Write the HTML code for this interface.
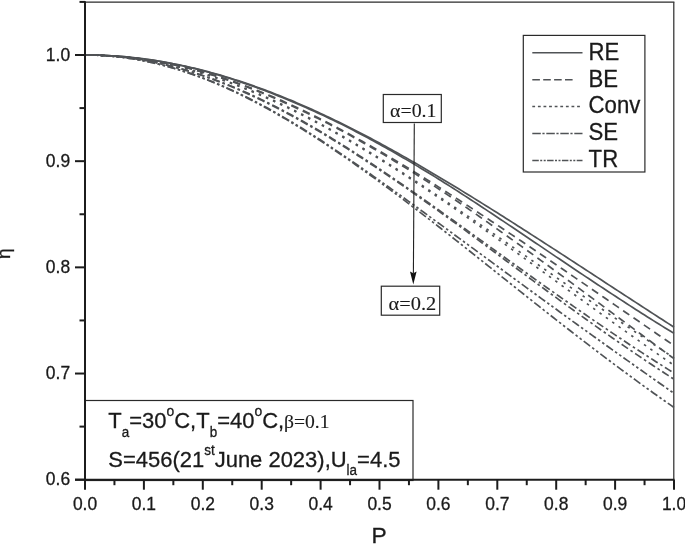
<!DOCTYPE html>
<html><head><meta charset="utf-8"><title>chart</title>
<style>
html,body{margin:0;padding:0;background:#fff;}
svg{display:block;}
text{font-family:"Liberation Sans",Arial,Helvetica,sans-serif;fill:#1a1a1a;stroke:#1a1a1a;stroke-width:0.3px;}
.serif{font-family:"Liberation Serif","Times New Roman",serif;stroke-width:0.12px;}
</style></head><body>
<svg width="685" height="544" viewBox="0 0 685 544">
<rect width="685" height="544" fill="#fff"/>
<!-- frame -->
<line x1="85.0" y1="2.2" x2="674.4" y2="2.2" stroke="#2a2a2a" stroke-width="1.2"/>
<line x1="673.8" y1="2.2" x2="673.8" y2="479.7" stroke="#2a2a2a" stroke-width="1.2"/>
<g>
<path d="M85.00,55.00 L87.94,55.01 L90.89,55.04 L93.83,55.09 L96.78,55.16 L99.72,55.24 L102.67,55.35 L105.62,55.48 L108.56,55.63 L111.50,55.79 L114.45,55.98 L117.40,56.18 L120.34,56.41 L123.28,56.65 L126.23,56.92 L129.18,57.20 L132.12,57.50 L135.06,57.82 L138.01,58.16 L140.95,58.52 L143.90,58.90 L146.84,59.30 L149.79,59.71 L152.74,60.14 L155.68,60.60 L158.62,61.07 L161.57,61.56 L164.51,62.07 L167.46,62.59 L170.41,63.14 L173.35,63.71 L176.30,64.29 L179.24,64.89 L182.19,65.51 L185.13,66.15 L188.07,66.80 L191.02,67.48 L193.97,68.17 L196.91,68.88 L199.86,69.61 L202.80,70.35 L205.75,71.12 L208.69,71.90 L211.63,72.70 L214.58,73.51 L217.53,74.34 L220.47,75.19 L223.42,76.06 L226.36,76.94 L229.31,77.84 L232.25,78.76 L235.19,79.69 L238.14,80.64 L241.09,81.61 L244.03,82.59 L246.98,83.59 L249.92,84.61 L252.87,85.64 L255.81,86.68 L258.75,87.74 L261.70,88.82 L264.64,89.91 L267.59,91.02 L270.53,92.14 L273.48,93.28 L276.43,94.43 L279.37,95.60 L282.31,96.78 L285.26,97.98 L288.21,99.19 L291.15,100.41 L294.10,101.65 L297.04,102.91 L299.99,104.18 L302.93,105.46 L305.88,106.75 L308.82,108.06 L311.76,109.38 L314.71,110.72 L317.65,112.07 L320.60,113.43 L323.55,114.80 L326.49,116.19 L329.44,117.58 L332.38,118.99 L335.32,120.41 L338.27,121.85 L341.21,123.29 L344.16,124.75 L347.11,126.22 L350.05,127.70 L353.00,129.19 L355.94,130.69 L358.88,132.20 L361.83,133.72 L364.78,135.26 L367.72,136.81 L370.67,138.37 L373.61,139.93 L376.56,141.51 L379.50,143.10 L382.44,144.69 L385.39,146.30 L388.33,147.92 L391.28,149.54 L394.23,151.17 L397.17,152.82 L400.12,154.47 L403.06,156.13 L406.00,157.80 L408.95,159.47 L411.90,161.16 L414.84,162.85 L417.79,164.55 L420.73,166.26 L423.68,167.97 L426.62,169.69 L429.56,171.42 L432.51,173.16 L435.45,174.91 L438.40,176.66 L441.34,178.41 L444.29,180.18 L447.24,181.95 L450.18,183.72 L453.12,185.50 L456.07,187.29 L459.01,189.08 L461.96,190.88 L464.91,192.68 L467.85,194.49 L470.80,196.30 L473.74,198.12 L476.69,199.94 L479.63,201.77 L482.58,203.60 L485.52,205.44 L488.47,207.28 L491.41,209.12 L494.36,210.97 L497.30,212.83 L500.25,214.69 L503.19,216.55 L506.13,218.41 L509.08,220.28 L512.02,222.15 L514.97,224.03 L517.91,225.91 L520.86,227.79 L523.81,229.68 L526.75,231.56 L529.69,233.45 L532.64,235.35 L535.59,237.24 L538.53,239.14 L541.48,241.04 L544.42,242.94 L547.37,244.84 L550.31,246.75 L553.25,248.66 L556.20,250.57 L559.14,252.48 L562.09,254.39 L565.04,256.30 L567.98,258.22 L570.92,260.13 L573.87,262.05 L576.82,263.97 L579.76,265.89 L582.70,267.81 L585.65,269.73 L588.60,271.65 L591.54,273.57 L594.49,275.49 L597.43,277.41 L600.38,279.33 L603.32,281.26 L606.26,283.18 L609.21,285.10 L612.15,287.02 L615.10,288.94 L618.04,290.86 L620.99,292.78 L623.94,294.70 L626.88,296.62 L629.83,298.54 L632.77,300.46 L635.72,302.37 L638.66,304.29 L641.61,306.20 L644.55,308.12 L647.50,310.03 L650.44,311.94 L653.38,313.85 L656.33,315.76 L659.27,317.67 L662.22,319.57 L665.16,321.47 L668.11,323.38 L671.05,325.28 L674.00,327.18" fill="none" stroke="#505356" stroke-width="1.7"/>
<path d="M85.00,55.00 L87.94,55.01 L90.89,55.04 L93.83,55.09 L96.78,55.16 L99.72,55.24 L102.67,55.35 L105.62,55.48 L108.56,55.63 L111.50,55.79 L114.45,55.98 L117.40,56.18 L120.34,56.41 L123.28,56.65 L126.23,56.92 L129.18,57.20 L132.12,57.50 L135.06,57.82 L138.01,58.16 L140.95,58.52 L143.90,58.90 L146.84,59.31 L149.79,59.74 L152.74,60.19 L155.68,60.66 L158.62,61.15 L161.57,61.65 L164.51,62.18 L167.46,62.72 L170.41,63.29 L173.35,63.87 L176.30,64.47 L179.24,65.08 L182.19,65.72 L185.13,66.37 L188.07,67.04 L191.02,67.74 L193.97,68.44 L196.91,69.17 L199.86,69.91 L202.80,70.67 L205.75,71.45 L208.69,72.25 L211.63,73.06 L214.58,73.90 L217.53,74.74 L220.47,75.61 L223.42,76.49 L226.36,77.39 L229.31,78.31 L232.25,79.24 L235.19,80.19 L238.14,81.16 L241.09,82.14 L244.03,83.14 L246.98,84.15 L249.92,85.18 L252.87,86.23 L255.81,87.29 L258.75,88.37 L261.70,89.46 L264.64,90.57 L267.59,91.69 L270.53,92.83 L273.48,93.99 L276.43,95.15 L279.37,96.34 L282.31,97.54 L285.26,98.75 L288.21,99.97 L291.15,101.21 L294.10,102.45 L297.04,103.71 L299.99,104.98 L302.93,106.26 L305.88,107.55 L308.82,108.86 L311.76,110.18 L314.71,111.52 L317.65,112.87 L320.60,114.23 L323.55,115.60 L326.49,116.99 L329.44,118.38 L332.38,119.79 L335.32,121.22 L338.27,122.66 L341.21,124.11 L344.16,125.58 L347.11,127.07 L350.05,128.58 L353.00,130.09 L355.94,131.63 L358.88,133.17 L361.83,134.74 L364.78,136.29 L367.72,137.86 L370.67,139.44 L373.61,141.03 L376.56,142.64 L379.50,144.26 L382.44,145.89 L385.39,147.53 L388.33,149.19 L391.28,150.86 L394.23,152.54 L397.17,154.23 L400.12,155.93 L403.06,157.65 L406.00,159.37 L408.95,161.11 L411.90,162.85 L414.84,164.61 L417.79,166.37 L420.73,168.15 L423.68,169.93 L426.62,171.72 L429.56,173.52 L432.51,175.33 L435.45,177.15 L438.40,178.98 L441.34,180.81 L444.29,182.66 L447.24,184.50 L450.18,186.36 L453.12,188.25 L456.07,190.14 L459.01,192.04 L461.96,193.95 L464.91,195.86 L467.85,197.77 L470.80,199.70 L473.74,201.63 L476.69,203.56 L479.63,205.50 L482.58,207.44 L485.52,209.39 L488.47,211.34 L491.41,213.29 L494.36,215.25 L497.30,217.21 L500.25,219.18 L503.19,221.15 L506.13,223.12 L509.08,225.09 L512.02,227.07 L514.97,229.04 L517.91,231.02 L520.86,233.00 L523.81,234.99 L526.75,236.97 L529.69,238.96 L532.64,240.94 L535.59,242.93 L538.53,244.92 L541.48,246.90 L544.42,248.89 L547.37,250.88 L550.31,252.87 L553.25,254.85 L556.20,256.84 L559.14,258.82 L562.09,260.80 L565.04,262.79 L567.98,264.77 L570.92,266.74 L573.87,268.72 L576.82,270.69 L579.76,272.67 L582.70,274.63 L585.65,276.60 L588.60,278.56 L591.54,280.52 L594.49,282.48 L597.43,284.43 L600.38,286.38 L603.32,288.33 L606.26,290.27 L609.21,292.21 L612.15,294.14 L615.10,296.07 L618.04,297.99 L620.99,299.91 L623.94,301.82 L626.88,303.73 L629.83,305.63 L632.77,307.53 L635.72,309.42 L638.66,311.30 L641.61,313.18 L644.55,315.05 L647.50,316.91 L650.44,318.77 L653.38,320.62 L656.33,322.47 L659.27,324.30 L662.22,326.13 L665.16,327.96 L668.11,329.77 L671.05,331.58 L674.00,333.37" fill="none" stroke="#505356" stroke-width="1.7"/>
<path d="M85.00,55.00 L87.94,55.01 L90.89,55.04 L93.83,55.10 L96.78,55.17 L99.72,55.27 L102.67,55.39 L105.62,55.53 L108.56,55.69 L111.50,55.87 L114.45,56.08 L117.40,56.31 L120.34,56.55 L123.28,56.82 L126.23,57.11 L129.18,57.42 L132.12,57.76 L135.06,58.11 L138.01,58.49 L140.95,58.88 L143.90,59.30 L146.84,59.74 L149.79,60.19 L152.74,60.67 L155.68,61.17 L158.62,61.69 L161.57,62.23 L164.51,62.79 L167.46,63.37 L170.41,63.98 L173.35,64.60 L176.30,65.24 L179.24,65.90 L182.19,66.58 L185.13,67.29 L188.07,68.01 L191.02,68.75 L193.97,69.51 L196.91,70.29 L199.86,71.09 L202.80,71.91 L205.75,72.75 L208.69,73.61 L211.63,74.49 L214.58,75.38 L217.53,76.30 L220.47,77.23 L223.42,78.18 L226.36,79.15 L229.31,80.14 L232.25,81.15 L235.19,82.17 L238.14,83.22 L241.09,84.28 L244.03,85.35 L246.98,86.45 L249.92,87.56 L252.87,88.69 L255.81,89.83 L258.75,91.00 L261.70,92.18 L264.64,93.37 L267.59,94.58 L270.53,95.81 L273.48,97.06 L276.43,98.32 L279.37,99.59 L282.31,100.88 L285.26,102.19 L288.21,103.51 L291.15,104.85 L294.10,106.20 L297.04,107.57 L299.99,108.96 L302.93,110.36 L305.88,111.77 L308.82,113.19 L311.76,114.63 L314.71,116.09 L317.65,117.55 L320.60,119.04 L323.55,120.53 L326.49,122.04 L329.44,123.56 L332.38,125.09 L335.32,126.63 L338.27,128.19 L341.21,129.76 L344.16,131.33 L347.11,132.92 L350.05,134.52 L353.00,136.13 L355.94,137.75 L358.88,139.39 L361.83,141.03 L364.78,142.68 L367.72,144.35 L370.67,146.02 L373.61,147.70 L376.56,149.40 L379.50,151.10 L382.44,152.81 L385.39,154.53 L388.33,156.26 L391.28,158.00 L394.23,159.74 L397.17,161.50 L400.12,163.26 L403.06,165.03 L406.00,166.81 L408.95,168.60 L411.90,170.39 L414.84,172.20 L417.79,174.00 L420.73,175.82 L423.68,177.64 L426.62,179.48 L429.56,181.31 L432.51,183.16 L435.45,185.01 L438.40,186.86 L441.34,188.73 L444.29,190.59 L447.24,192.47 L450.18,194.35 L453.12,196.23 L456.07,198.12 L459.01,200.02 L461.96,201.92 L464.91,203.82 L467.85,205.73 L470.80,207.64 L473.74,209.56 L476.69,211.49 L479.63,213.42 L482.58,215.35 L485.52,217.29 L488.47,219.23 L491.41,221.17 L494.36,223.12 L497.30,225.07 L500.25,227.03 L503.19,228.99 L506.13,230.96 L509.08,232.92 L512.02,234.89 L514.97,236.87 L517.91,238.84 L520.86,240.82 L523.81,242.80 L526.75,244.79 L529.69,246.78 L532.64,248.77 L535.59,250.76 L538.53,252.75 L541.48,254.75 L544.42,256.75 L547.37,258.75 L550.31,260.75 L553.25,262.76 L556.20,264.76 L559.14,266.77 L562.09,268.78 L565.04,270.79 L567.98,272.80 L570.92,274.82 L573.87,276.83 L576.82,278.85 L579.76,280.87 L582.70,282.88 L585.65,284.90 L588.60,286.92 L591.54,288.94 L594.49,290.96 L597.43,292.98 L600.38,295.01 L603.32,297.03 L606.26,299.05 L609.21,301.07 L612.15,303.10 L615.10,305.12 L618.04,307.14 L620.99,309.17 L623.94,311.19 L626.88,313.21 L629.83,315.24 L632.77,317.26 L635.72,319.28 L638.66,321.30 L641.61,323.33 L644.55,325.35 L647.50,327.37 L650.44,329.39 L653.38,331.41 L656.33,333.43 L659.27,335.45 L662.22,337.46 L665.16,339.48 L668.11,341.50 L671.05,343.51 L674.00,345.53" fill="none" stroke="#505356" stroke-width="1.7" stroke-dasharray="7.5 5.1"/>
<path d="M85.00,55.00 L87.94,55.01 L90.89,55.04 L93.83,55.10 L96.78,55.17 L99.72,55.27 L102.67,55.39 L105.62,55.53 L108.56,55.69 L111.50,55.87 L114.45,56.08 L117.40,56.31 L120.34,56.55 L123.28,56.82 L126.23,57.11 L129.18,57.42 L132.12,57.76 L135.06,58.11 L138.01,58.49 L140.95,58.88 L143.90,59.30 L146.84,59.75 L149.79,60.23 L152.74,60.72 L155.68,61.24 L158.62,61.77 L161.57,62.33 L164.51,62.90 L167.46,63.50 L170.41,64.12 L173.35,64.76 L176.30,65.42 L179.24,66.09 L182.19,66.79 L185.13,67.51 L188.07,68.25 L191.02,69.01 L193.97,69.78 L196.91,70.58 L199.86,71.40 L202.80,72.23 L205.75,73.09 L208.69,73.96 L211.63,74.86 L214.58,75.77 L217.53,76.70 L220.47,77.65 L223.42,78.62 L226.36,79.60 L229.31,80.61 L232.25,81.63 L235.19,82.67 L238.14,83.73 L241.09,84.80 L244.03,85.90 L246.98,87.01 L249.92,88.13 L252.87,89.28 L255.81,90.44 L258.75,91.62 L261.70,92.82 L264.64,94.03 L267.59,95.26 L270.53,96.50 L273.48,97.76 L276.43,99.04 L279.37,100.33 L282.31,101.64 L285.26,102.96 L288.21,104.30 L291.15,105.65 L294.10,107.00 L297.04,108.37 L299.99,109.76 L302.93,111.16 L305.88,112.57 L308.82,113.99 L311.76,115.43 L314.71,116.89 L317.65,118.35 L320.60,119.84 L323.55,121.33 L326.49,122.84 L329.44,124.36 L332.38,125.89 L335.32,127.43 L338.27,129.00 L341.21,130.57 L344.16,132.16 L347.11,133.76 L350.05,135.38 L353.00,137.01 L355.94,138.65 L358.88,140.31 L361.83,141.98 L364.78,143.64 L367.72,145.31 L370.67,147.00 L373.61,148.69 L376.56,150.40 L379.50,152.12 L382.44,153.85 L385.39,155.60 L388.33,157.35 L391.28,159.12 L394.23,160.90 L397.17,162.69 L400.12,164.49 L403.06,166.30 L406.00,168.12 L408.95,169.95 L411.90,171.79 L414.84,173.64 L417.79,175.50 L420.73,177.37 L423.68,179.24 L426.62,181.13 L429.56,183.03 L432.51,184.93 L435.45,186.85 L438.40,188.77 L441.34,190.70 L444.29,192.64 L447.24,194.59 L450.18,196.54 L453.12,198.53 L456.07,200.52 L459.01,202.52 L461.96,204.53 L464.91,206.54 L467.85,208.56 L470.80,210.59 L473.74,212.62 L476.69,214.66 L479.63,216.71 L482.58,218.76 L485.52,220.82 L488.47,222.88 L491.41,224.95 L494.36,227.03 L497.30,229.11 L500.25,231.19 L503.19,233.29 L506.13,235.38 L509.08,237.48 L512.02,239.58 L514.97,241.69 L517.91,243.81 L520.86,245.92 L523.81,248.04 L526.75,250.17 L529.69,252.30 L532.64,254.43 L535.59,256.57 L538.53,258.71 L541.48,260.85 L544.42,262.99 L547.37,265.14 L550.31,267.29 L553.25,269.44 L556.20,271.60 L559.14,273.76 L562.09,275.92 L565.04,278.08 L567.98,280.25 L570.92,282.42 L573.87,284.58 L576.82,286.75 L579.76,288.93 L582.70,291.10 L585.65,293.28 L588.60,295.45 L591.54,297.63 L594.49,299.81 L597.43,301.99 L600.38,304.17 L603.32,306.35 L606.26,308.53 L609.21,310.71 L612.15,312.90 L615.10,315.08 L618.04,317.26 L620.99,319.45 L623.94,321.63 L626.88,323.82 L629.83,326.00 L632.77,328.18 L635.72,330.37 L638.66,332.55 L641.61,334.73 L644.55,336.91 L647.50,339.09 L650.44,341.27 L653.38,343.45 L656.33,345.63 L659.27,347.81 L662.22,349.99 L665.16,352.16 L668.11,354.34 L671.05,356.51 L674.00,358.68" fill="none" stroke="#505356" stroke-width="1.7" stroke-dasharray="7.5 5.1"/>
<path d="M85.00,55.00 L87.94,55.01 L90.89,55.05 L93.83,55.11 L96.78,55.19 L99.72,55.29 L102.67,55.42 L105.62,55.57 L108.56,55.75 L111.50,55.95 L114.45,56.17 L117.40,56.41 L120.34,56.68 L123.28,56.97 L126.23,57.29 L129.18,57.62 L132.12,57.99 L135.06,58.37 L138.01,58.78 L140.95,59.20 L143.90,59.66 L146.84,60.13 L149.79,60.62 L152.74,61.14 L155.68,61.68 L158.62,62.24 L161.57,62.83 L164.51,63.43 L167.46,64.06 L170.41,64.71 L173.35,65.39 L176.30,66.08 L179.24,66.80 L182.19,67.54 L185.13,68.30 L188.07,69.08 L191.02,69.88 L193.97,70.70 L196.91,71.54 L199.86,72.41 L202.80,73.29 L205.75,74.20 L208.69,75.13 L211.63,76.07 L214.58,77.04 L217.53,78.03 L220.47,79.03 L223.42,80.06 L226.36,81.11 L229.31,82.17 L232.25,83.26 L235.19,84.36 L238.14,85.48 L241.09,86.63 L244.03,87.79 L246.98,88.97 L249.92,90.16 L252.87,91.38 L255.81,92.61 L258.75,93.86 L261.70,95.13 L264.64,96.42 L267.59,97.72 L270.53,99.04 L273.48,100.38 L276.43,101.73 L279.37,103.10 L282.31,104.49 L285.26,105.90 L288.21,107.31 L291.15,108.75 L294.10,110.20 L297.04,111.67 L299.99,113.15 L302.93,114.65 L305.88,116.17 L308.82,117.69 L311.76,119.24 L314.71,120.79 L317.65,122.37 L320.60,123.95 L323.55,125.55 L326.49,127.16 L329.44,128.79 L332.38,130.42 L335.32,132.08 L338.27,133.74 L341.21,135.41 L344.16,137.10 L347.11,138.80 L350.05,140.51 L353.00,142.23 L355.94,143.96 L358.88,145.71 L361.83,147.46 L364.78,149.23 L367.72,151.01 L370.67,152.79 L373.61,154.59 L376.56,156.40 L379.50,158.21 L382.44,160.04 L385.39,161.87 L388.33,163.72 L391.28,165.57 L394.23,167.43 L397.17,169.30 L400.12,171.17 L403.06,173.06 L406.00,174.95 L408.95,176.85 L411.90,178.76 L414.84,180.67 L417.79,182.59 L420.73,184.52 L423.68,186.45 L426.62,188.39 L429.56,190.34 L432.51,192.29 L435.45,194.25 L438.40,196.21 L441.34,198.18 L444.29,200.16 L447.24,202.14 L450.18,204.12 L453.12,206.11 L456.07,208.10 L459.01,210.10 L461.96,212.09 L464.91,214.10 L467.85,216.11 L470.80,218.12 L473.74,220.13 L476.69,222.15 L479.63,224.17 L482.58,226.19 L485.52,228.22 L488.47,230.25 L491.41,232.28 L494.36,234.32 L497.30,236.36 L500.25,238.40 L503.19,240.44 L506.13,242.48 L509.08,244.52 L512.02,246.57 L514.97,248.62 L517.91,250.67 L520.86,252.72 L523.81,254.77 L526.75,256.82 L529.69,258.87 L532.64,260.93 L535.59,262.98 L538.53,265.03 L541.48,267.09 L544.42,269.14 L547.37,271.20 L550.31,273.25 L553.25,275.30 L556.20,277.36 L559.14,279.41 L562.09,281.46 L565.04,283.51 L567.98,285.56 L570.92,287.61 L573.87,289.66 L576.82,291.70 L579.76,293.75 L582.70,295.79 L585.65,297.83 L588.60,299.87 L591.54,301.91 L594.49,303.95 L597.43,305.98 L600.38,308.01 L603.32,310.04 L606.26,312.07 L609.21,314.09 L612.15,316.12 L615.10,318.14 L618.04,320.15 L620.99,322.17 L623.94,324.18 L626.88,326.19 L629.83,328.19 L632.77,330.20 L635.72,332.19 L638.66,334.19 L641.61,336.18 L644.55,338.17 L647.50,340.16 L650.44,342.14 L653.38,344.12 L656.33,346.09 L659.27,348.06 L662.22,350.03 L665.16,351.99 L668.11,353.95 L671.05,355.90 L674.00,357.85" fill="none" stroke="#505356" stroke-width="1.7" stroke-dasharray="2.5 5.3"/>
<path d="M85.00,55.00 L87.94,55.01 L90.89,55.05 L93.83,55.11 L96.78,55.19 L99.72,55.29 L102.67,55.42 L105.62,55.57 L108.56,55.75 L111.50,55.95 L114.45,56.17 L117.40,56.41 L120.34,56.68 L123.28,56.97 L126.23,57.29 L129.18,57.62 L132.12,57.99 L135.06,58.37 L138.01,58.78 L140.95,59.20 L143.90,59.66 L146.84,60.14 L149.79,60.66 L152.74,61.19 L155.68,61.75 L158.62,62.32 L161.57,62.92 L164.51,63.55 L167.46,64.19 L170.41,64.86 L173.35,65.55 L176.30,66.26 L179.24,66.99 L182.19,67.74 L185.13,68.52 L188.07,69.32 L191.02,70.13 L193.97,70.97 L196.91,71.83 L199.86,72.71 L202.80,73.61 L205.75,74.54 L208.69,75.48 L211.63,76.44 L214.58,77.42 L217.53,78.43 L220.47,79.45 L223.42,80.49 L226.36,81.56 L229.31,82.64 L232.25,83.74 L235.19,84.86 L238.14,86.00 L241.09,87.15 L244.03,88.33 L246.98,89.53 L249.92,90.74 L252.87,91.97 L255.81,93.22 L258.75,94.49 L261.70,95.77 L264.64,97.07 L267.59,98.39 L270.53,99.73 L273.48,101.08 L276.43,102.45 L279.37,103.84 L282.31,105.24 L285.26,106.66 L288.21,108.10 L291.15,109.55 L294.10,111.00 L297.04,112.47 L299.99,113.95 L302.93,115.45 L305.88,116.97 L308.82,118.49 L311.76,120.04 L314.71,121.59 L317.65,123.17 L320.60,124.75 L323.55,126.35 L326.49,127.96 L329.44,129.59 L332.38,131.22 L335.32,132.88 L338.27,134.54 L341.21,136.22 L344.16,137.92 L347.11,139.62 L350.05,141.35 L353.00,143.08 L355.94,144.83 L358.88,146.58 L361.83,148.36 L364.78,150.12 L367.72,151.89 L370.67,153.67 L373.61,155.47 L376.56,157.27 L379.50,159.09 L382.44,160.92 L385.39,162.76 L388.33,164.61 L391.28,166.47 L394.23,168.34 L397.17,170.22 L400.12,172.10 L403.06,174.00 L406.00,175.91 L408.95,177.83 L411.90,179.75 L414.84,181.68 L417.79,183.62 L420.73,185.57 L423.68,187.53 L426.62,189.50 L429.56,191.47 L432.51,193.45 L435.45,195.43 L438.40,197.43 L441.34,199.43 L444.29,201.43 L447.24,203.45 L450.18,205.47 L453.12,207.51 L456.07,209.57 L459.01,211.63 L461.96,213.69 L464.91,215.76 L467.85,217.83 L470.80,219.91 L473.74,221.99 L476.69,224.08 L479.63,226.17 L482.58,228.27 L485.52,230.37 L488.47,232.47 L491.41,234.58 L494.36,236.69 L497.30,238.80 L500.25,240.91 L503.19,243.03 L506.13,245.15 L509.08,247.27 L512.02,249.40 L514.97,251.53 L517.91,253.65 L520.86,255.78 L523.81,257.92 L526.75,260.05 L529.69,262.18 L532.64,264.32 L535.59,266.46 L538.53,268.59 L541.48,270.73 L544.42,272.87 L547.37,275.01 L550.31,277.14 L553.25,279.28 L556.20,281.42 L559.14,283.56 L562.09,285.70 L565.04,287.83 L567.98,289.97 L570.92,292.10 L573.87,294.24 L576.82,296.37 L579.76,298.50 L582.70,300.63 L585.65,302.76 L588.60,304.89 L591.54,307.01 L594.49,309.14 L597.43,311.26 L600.38,313.38 L603.32,315.49 L606.26,317.61 L609.21,319.72 L612.15,321.83 L615.10,323.93 L618.04,326.04 L620.99,328.14 L623.94,330.23 L626.88,332.33 L629.83,334.42 L632.77,336.50 L635.72,338.59 L638.66,340.67 L641.61,342.74 L644.55,344.82 L647.50,346.88 L650.44,348.95 L653.38,351.01 L656.33,353.06 L659.27,355.12 L662.22,357.16 L665.16,359.21 L668.11,361.24 L671.05,363.28 L674.00,365.31" fill="none" stroke="#505356" stroke-width="1.7" stroke-dasharray="2.5 5.3"/>
<path d="M85.00,55.00 L87.94,55.01 L90.89,55.05 L93.83,55.12 L96.78,55.21 L99.72,55.33 L102.67,55.47 L105.62,55.64 L108.56,55.84 L111.50,56.06 L114.45,56.31 L117.40,56.58 L120.34,56.88 L123.28,57.21 L126.23,57.56 L129.18,57.94 L132.12,58.34 L135.06,58.77 L138.01,59.23 L140.95,59.71 L143.90,60.21 L146.84,60.74 L149.79,61.29 L152.74,61.87 L155.68,62.48 L158.62,63.11 L161.57,63.76 L164.51,64.44 L167.46,65.14 L170.41,65.87 L173.35,66.62 L176.30,67.39 L179.24,68.19 L182.19,69.02 L185.13,69.87 L188.07,70.74 L191.02,71.63 L193.97,72.55 L196.91,73.49 L199.86,74.46 L202.80,75.44 L205.75,76.45 L208.69,77.48 L211.63,78.54 L214.58,79.62 L217.53,80.71 L220.47,81.83 L223.42,82.98 L226.36,84.14 L229.31,85.33 L232.25,86.53 L235.19,87.76 L238.14,89.01 L241.09,90.28 L244.03,91.56 L246.98,92.87 L249.92,94.20 L252.87,95.55 L255.81,96.92 L258.75,98.30 L261.70,99.71 L264.64,101.13 L267.59,102.58 L270.53,104.04 L273.48,105.52 L276.43,107.02 L279.37,108.53 L282.31,110.07 L285.26,111.62 L288.21,113.19 L291.15,114.77 L294.10,116.37 L297.04,117.99 L299.99,119.63 L302.93,121.28 L305.88,122.95 L308.82,124.63 L311.76,126.33 L314.71,128.04 L317.65,129.77 L320.60,131.51 L323.55,133.27 L326.49,135.04 L329.44,136.83 L332.38,138.63 L335.32,140.44 L338.27,142.26 L341.21,144.10 L344.16,145.94 L347.11,147.80 L350.05,149.67 L353.00,151.55 L355.94,153.44 L358.88,155.35 L361.83,157.26 L364.78,159.18 L367.72,161.12 L370.67,163.06 L373.61,165.01 L376.56,166.98 L379.50,168.95 L382.44,170.93 L385.39,172.91 L388.33,174.91 L391.28,176.91 L394.23,178.92 L397.17,180.94 L400.12,182.96 L403.06,184.99 L406.00,187.03 L408.95,189.07 L411.90,191.12 L414.84,193.18 L417.79,195.24 L420.73,197.31 L423.68,199.38 L426.62,201.45 L429.56,203.53 L432.51,205.62 L435.45,207.71 L438.40,209.80 L441.34,211.89 L444.29,213.99 L447.24,216.10 L450.18,218.20 L453.12,220.31 L456.07,222.42 L459.01,224.53 L461.96,226.64 L464.91,228.75 L467.85,230.87 L470.80,232.99 L473.74,235.11 L476.69,237.23 L479.63,239.35 L482.58,241.47 L485.52,243.59 L488.47,245.72 L491.41,247.84 L494.36,249.96 L497.30,252.08 L500.25,254.21 L503.19,256.33 L506.13,258.45 L509.08,260.57 L512.02,262.69 L514.97,264.80 L517.91,266.92 L520.86,269.03 L523.81,271.15 L526.75,273.26 L529.69,275.37 L532.64,277.47 L535.59,279.57 L538.53,281.68 L541.48,283.77 L544.42,285.87 L547.37,287.96 L550.31,290.05 L553.25,292.13 L556.20,294.21 L559.14,296.29 L562.09,298.37 L565.04,300.44 L567.98,302.50 L570.92,304.56 L573.87,306.62 L576.82,308.67 L579.76,310.72 L582.70,312.76 L585.65,314.80 L588.60,316.83 L591.54,318.86 L594.49,320.88 L597.43,322.90 L600.38,324.91 L603.32,326.92 L606.26,328.92 L609.21,330.91 L612.15,332.90 L615.10,334.88 L618.04,336.85 L620.99,338.82 L623.94,340.78 L626.88,342.74 L629.83,344.69 L632.77,346.63 L635.72,348.56 L638.66,350.49 L641.61,352.41 L644.55,354.33 L647.50,356.23 L650.44,358.13 L653.38,360.02 L656.33,361.91 L659.27,363.78 L662.22,365.65 L665.16,367.51 L668.11,369.36 L671.05,371.21 L674.00,373.04" fill="none" stroke="#505356" stroke-width="1.7" stroke-dasharray="7.7 3 2.6 3"/>
<path d="M85.00,55.00 L87.94,55.01 L90.89,55.05 L93.83,55.12 L96.78,55.21 L99.72,55.33 L102.67,55.47 L105.62,55.64 L108.56,55.84 L111.50,56.06 L114.45,56.31 L117.40,56.58 L120.34,56.88 L123.28,57.21 L126.23,57.56 L129.18,57.94 L132.12,58.34 L135.06,58.77 L138.01,59.23 L140.95,59.71 L143.90,60.21 L146.84,60.76 L149.79,61.33 L152.74,61.92 L155.68,62.54 L158.62,63.19 L161.57,63.85 L164.51,64.55 L167.46,65.27 L170.41,66.01 L173.35,66.78 L176.30,67.57 L179.24,68.39 L182.19,69.23 L185.13,70.09 L188.07,70.98 L191.02,71.89 L193.97,72.82 L196.91,73.78 L199.86,74.76 L202.80,75.76 L205.75,76.79 L208.69,77.84 L211.63,78.91 L214.58,80.00 L217.53,81.11 L220.47,82.25 L223.42,83.41 L226.36,84.59 L229.31,85.79 L232.25,87.01 L235.19,88.26 L238.14,89.52 L241.09,90.80 L244.03,92.11 L246.98,93.43 L249.92,94.78 L252.87,96.14 L255.81,97.52 L258.75,98.93 L261.70,100.35 L264.64,101.79 L267.59,103.25 L270.53,104.73 L273.48,106.22 L276.43,107.74 L279.37,109.27 L282.31,110.82 L285.26,112.39 L288.21,113.97 L291.15,115.57 L294.10,117.17 L297.04,118.79 L299.99,120.43 L302.93,122.08 L305.88,123.75 L308.82,125.43 L311.76,127.13 L314.71,128.84 L317.65,130.57 L320.60,132.31 L323.55,134.07 L326.49,135.84 L329.44,137.63 L332.38,139.43 L335.32,141.24 L338.27,143.07 L341.21,144.90 L344.16,146.76 L347.11,148.62 L350.05,150.50 L353.00,152.39 L355.94,154.30 L358.88,156.21 L361.83,158.14 L364.78,160.06 L367.72,161.98 L370.67,163.92 L373.61,165.87 L376.56,167.83 L379.50,169.80 L382.44,171.77 L385.39,173.76 L388.33,175.76 L391.28,177.76 L394.23,179.78 L397.17,181.80 L400.12,183.83 L403.06,185.87 L406.00,187.92 L408.95,189.97 L411.90,192.03 L414.84,194.10 L417.79,196.18 L420.73,198.26 L423.68,200.35 L426.62,202.44 L429.56,204.54 L432.51,206.64 L435.45,208.75 L438.40,210.87 L441.34,212.98 L444.29,215.11 L447.24,217.23 L450.18,219.37 L453.12,221.52 L456.07,223.69 L459.01,225.85 L461.96,228.02 L464.91,230.19 L467.85,232.36 L470.80,234.54 L473.74,236.72 L476.69,238.90 L479.63,241.08 L482.58,243.26 L485.52,245.44 L488.47,247.63 L491.41,249.81 L494.36,252.00 L497.30,254.19 L500.25,256.37 L503.19,258.56 L506.13,260.74 L509.08,262.93 L512.02,265.12 L514.97,267.30 L517.91,269.48 L520.86,271.66 L523.81,273.84 L526.75,276.02 L529.69,278.20 L532.64,280.37 L535.59,282.55 L538.53,284.72 L541.48,286.89 L544.42,289.05 L547.37,291.21 L550.31,293.37 L553.25,295.53 L556.20,297.68 L559.14,299.83 L562.09,301.97 L565.04,304.11 L567.98,306.25 L570.92,308.38 L573.87,310.51 L576.82,312.63 L579.76,314.75 L582.70,316.87 L585.65,318.97 L588.60,321.08 L591.54,323.18 L594.49,325.27 L597.43,327.36 L600.38,329.44 L603.32,331.51 L606.26,333.58 L609.21,335.65 L612.15,337.70 L615.10,339.75 L618.04,341.80 L620.99,343.83 L623.94,345.86 L626.88,347.89 L629.83,349.90 L632.77,351.91 L635.72,353.91 L638.66,355.91 L641.61,357.89 L644.55,359.87 L647.50,361.84 L650.44,363.81 L653.38,365.76 L656.33,367.71 L659.27,369.65 L662.22,371.58 L665.16,373.50 L668.11,375.41 L671.05,377.32 L674.00,379.21" fill="none" stroke="#505356" stroke-width="1.7" stroke-dasharray="7.7 3 2.6 3"/>
<path d="M85.00,55.00 L87.94,55.01 L90.89,55.06 L93.83,55.13 L96.78,55.24 L99.72,55.37 L102.67,55.53 L105.62,55.72 L108.56,55.94 L111.50,56.19 L114.45,56.47 L117.40,56.78 L120.34,57.12 L123.28,57.48 L126.23,57.88 L129.18,58.30 L132.12,58.75 L135.06,59.23 L138.01,59.74 L140.95,60.28 L143.90,60.85 L146.84,61.44 L149.79,62.07 L152.74,62.71 L155.68,63.39 L158.62,64.10 L161.57,64.83 L164.51,65.59 L167.46,66.38 L170.41,67.19 L173.35,68.04 L176.30,68.90 L179.24,69.80 L182.19,70.72 L185.13,71.67 L188.07,72.65 L191.02,73.65 L193.97,74.67 L196.91,75.73 L199.86,76.80 L202.80,77.91 L205.75,79.04 L208.69,80.19 L211.63,81.37 L214.58,82.57 L217.53,83.79 L220.47,85.04 L223.42,86.32 L226.36,87.62 L229.31,88.94 L232.25,90.28 L235.19,91.65 L238.14,93.04 L241.09,94.45 L244.03,95.88 L246.98,97.34 L249.92,98.81 L252.87,100.31 L255.81,101.83 L258.75,103.37 L261.70,104.93 L264.64,106.51 L267.59,108.11 L270.53,109.73 L273.48,111.38 L276.43,113.03 L279.37,114.71 L282.31,116.41 L285.26,118.13 L288.21,119.86 L291.15,121.61 L294.10,123.38 L297.04,125.17 L299.99,126.98 L302.93,128.80 L305.88,130.64 L308.82,132.49 L311.76,134.37 L314.71,136.25 L317.65,138.16 L320.60,140.07 L323.55,142.00 L326.49,143.95 L329.44,145.91 L332.38,147.89 L335.32,149.87 L338.27,151.87 L341.21,153.87 L344.16,155.88 L347.11,157.89 L350.05,159.91 L353.00,161.94 L355.94,163.98 L358.88,166.02 L361.83,168.07 L364.78,170.13 L367.72,172.19 L370.67,174.26 L373.61,176.33 L376.56,178.41 L379.50,180.50 L382.44,182.59 L385.39,184.68 L388.33,186.78 L391.28,188.89 L394.23,191.00 L397.17,193.11 L400.12,195.22 L403.06,197.34 L406.00,199.47 L408.95,201.59 L411.90,203.72 L414.84,205.86 L417.79,207.99 L420.73,210.13 L423.68,212.28 L426.62,214.42 L429.56,216.57 L432.51,218.72 L435.45,220.87 L438.40,223.02 L441.34,225.17 L444.29,227.33 L447.24,229.49 L450.18,231.65 L453.12,233.80 L456.07,235.96 L459.01,238.12 L461.96,240.28 L464.91,242.44 L467.85,244.61 L470.80,246.77 L473.74,248.93 L476.69,251.10 L479.63,253.26 L482.58,255.42 L485.52,257.59 L488.47,259.75 L491.41,261.91 L494.36,264.08 L497.30,266.24 L500.25,268.40 L503.19,270.56 L506.13,272.73 L509.08,274.89 L512.02,277.05 L514.97,279.20 L517.91,281.36 L520.86,283.52 L523.81,285.68 L526.75,287.83 L529.69,289.98 L532.64,292.14 L535.59,294.29 L538.53,296.44 L541.48,298.59 L544.42,300.73 L547.37,302.88 L550.31,305.02 L553.25,307.16 L556.20,309.30 L559.14,311.44 L562.09,313.58 L565.04,315.71 L567.98,317.85 L570.92,319.98 L573.87,322.11 L576.82,324.24 L579.76,326.36 L582.70,328.48 L585.65,330.61 L588.60,332.73 L591.54,334.84 L594.49,336.96 L597.43,339.07 L600.38,341.18 L603.32,343.29 L606.26,345.40 L609.21,347.51 L612.15,349.61 L615.10,351.71 L618.04,353.81 L620.99,355.91 L623.94,358.00 L626.88,360.09 L629.83,362.18 L632.77,364.27 L635.72,366.36 L638.66,368.44 L641.61,370.53 L644.55,372.61 L647.50,374.69 L650.44,376.76 L653.38,378.84 L656.33,380.91 L659.27,382.98 L662.22,385.05 L665.16,387.12 L668.11,389.19 L671.05,391.25 L674.00,393.31" fill="none" stroke="#505356" stroke-width="1.7" stroke-dasharray="8.1 2.6 2.5 2.6 2.5 2.6"/>
<path d="M85.00,55.00 L87.94,55.01 L90.89,55.06 L93.83,55.13 L96.78,55.24 L99.72,55.37 L102.67,55.53 L105.62,55.72 L108.56,55.94 L111.50,56.19 L114.45,56.47 L117.40,56.78 L120.34,57.12 L123.28,57.48 L126.23,57.88 L129.18,58.30 L132.12,58.75 L135.06,59.23 L138.01,59.74 L140.95,60.28 L143.90,60.85 L146.84,61.46 L149.79,62.10 L152.74,62.76 L155.68,63.46 L158.62,64.18 L161.57,64.93 L164.51,65.70 L167.46,66.51 L170.41,67.34 L173.35,68.20 L176.30,69.08 L179.24,69.99 L182.19,70.93 L185.13,71.90 L188.07,72.89 L191.02,73.90 L193.97,74.95 L196.91,76.01 L199.86,77.11 L202.80,78.23 L205.75,79.37 L208.69,80.54 L211.63,81.73 L214.58,82.95 L217.53,84.19 L220.47,85.46 L223.42,86.75 L226.36,88.06 L229.31,89.40 L232.25,90.76 L235.19,92.14 L238.14,93.55 L241.09,94.98 L244.03,96.42 L246.98,97.90 L249.92,99.39 L252.87,100.90 L255.81,102.44 L258.75,104.00 L261.70,105.57 L264.64,107.17 L267.59,108.79 L270.53,110.42 L273.48,112.08 L276.43,113.75 L279.37,115.45 L282.31,117.16 L285.26,118.89 L288.21,120.64 L291.15,122.41 L294.10,124.18 L297.04,125.97 L299.99,127.78 L302.93,129.60 L305.88,131.44 L308.82,133.29 L311.76,135.17 L314.71,137.05 L317.65,138.96 L320.60,140.87 L323.55,142.80 L326.49,144.75 L329.44,146.71 L332.38,148.69 L335.32,150.68 L338.27,152.68 L341.21,154.70 L344.16,156.73 L347.11,158.77 L350.05,160.83 L353.00,162.90 L355.94,164.98 L358.88,167.07 L361.83,169.18 L364.78,171.27 L367.72,173.38 L370.67,175.49 L373.61,177.62 L376.56,179.75 L379.50,181.90 L382.44,184.06 L385.39,186.22 L388.33,188.40 L391.28,190.58 L394.23,192.77 L397.17,194.97 L400.12,197.18 L403.06,199.39 L406.00,201.62 L408.95,203.85 L411.90,206.08 L414.84,208.33 L417.79,210.58 L420.73,212.83 L423.68,215.10 L426.62,217.36 L429.56,219.63 L432.51,221.91 L435.45,224.19 L438.40,226.48 L441.34,228.77 L444.29,231.07 L447.24,233.36 L450.18,235.67 L453.12,238.00 L456.07,240.33 L459.01,242.66 L461.96,245.00 L464.91,247.34 L467.85,249.68 L470.80,252.02 L473.74,254.37 L476.69,256.71 L479.63,259.06 L482.58,261.41 L485.52,263.76 L488.47,266.11 L491.41,268.45 L494.36,270.80 L497.30,273.15 L500.25,275.50 L503.19,277.85 L506.13,280.20 L509.08,282.55 L512.02,284.89 L514.97,287.24 L517.91,289.58 L520.86,291.92 L523.81,294.26 L526.75,296.60 L529.69,298.93 L532.64,301.27 L535.59,303.60 L538.53,305.92 L541.48,308.25 L544.42,310.57 L547.37,312.89 L550.31,315.20 L553.25,317.51 L556.20,319.82 L559.14,322.12 L562.09,324.42 L565.04,326.72 L567.98,329.01 L570.92,331.29 L573.87,333.57 L576.82,335.85 L579.76,338.12 L582.70,340.39 L585.65,342.65 L588.60,344.91 L591.54,347.16 L594.49,349.40 L597.43,351.64 L600.38,353.87 L603.32,356.10 L606.26,358.32 L609.21,360.54 L612.15,362.74 L615.10,364.95 L618.04,367.14 L620.99,369.33 L623.94,371.51 L626.88,373.69 L629.83,375.86 L632.77,378.02 L635.72,380.17 L638.66,382.32 L641.61,384.46 L644.55,386.59 L647.50,388.71 L650.44,390.83 L653.38,392.94 L656.33,395.04 L659.27,397.13 L662.22,399.21 L665.16,401.29 L668.11,403.36 L671.05,405.42 L674.00,407.47" fill="none" stroke="#505356" stroke-width="1.7" stroke-dasharray="8.1 2.6 2.5 2.6 2.5 2.6"/>
</g>
<!-- info box -->
<rect x="85" y="400.5" width="328" height="80" fill="#fff" stroke="#2a2a2a" stroke-width="1.2"/>
<!-- axes -->
<line x1="85.0" y1="1.3" x2="85.0" y2="480.7" stroke="#1c1c1c" stroke-width="2"/>
<line x1="75.0" y1="479.7" x2="674.5" y2="479.7" stroke="#1c1c1c" stroke-width="2"/>
<line x1="85.00" y1="479.7" x2="85.00" y2="489.7" stroke="#1c1c1c" stroke-width="2"/>
<line x1="114.45" y1="479.7" x2="114.45" y2="485.2" stroke="#1c1c1c" stroke-width="2"/>
<line x1="143.90" y1="479.7" x2="143.90" y2="489.7" stroke="#1c1c1c" stroke-width="2"/>
<line x1="173.35" y1="479.7" x2="173.35" y2="485.2" stroke="#1c1c1c" stroke-width="2"/>
<line x1="202.80" y1="479.7" x2="202.80" y2="489.7" stroke="#1c1c1c" stroke-width="2"/>
<line x1="232.25" y1="479.7" x2="232.25" y2="485.2" stroke="#1c1c1c" stroke-width="2"/>
<line x1="261.70" y1="479.7" x2="261.70" y2="489.7" stroke="#1c1c1c" stroke-width="2"/>
<line x1="291.15" y1="479.7" x2="291.15" y2="485.2" stroke="#1c1c1c" stroke-width="2"/>
<line x1="320.60" y1="479.7" x2="320.60" y2="489.7" stroke="#1c1c1c" stroke-width="2"/>
<line x1="350.05" y1="479.7" x2="350.05" y2="485.2" stroke="#1c1c1c" stroke-width="2"/>
<line x1="379.50" y1="479.7" x2="379.50" y2="489.7" stroke="#1c1c1c" stroke-width="2"/>
<line x1="408.95" y1="479.7" x2="408.95" y2="485.2" stroke="#1c1c1c" stroke-width="2"/>
<line x1="438.40" y1="479.7" x2="438.40" y2="489.7" stroke="#1c1c1c" stroke-width="2"/>
<line x1="467.85" y1="479.7" x2="467.85" y2="485.2" stroke="#1c1c1c" stroke-width="2"/>
<line x1="497.30" y1="479.7" x2="497.30" y2="489.7" stroke="#1c1c1c" stroke-width="2"/>
<line x1="526.75" y1="479.7" x2="526.75" y2="485.2" stroke="#1c1c1c" stroke-width="2"/>
<line x1="556.20" y1="479.7" x2="556.20" y2="489.7" stroke="#1c1c1c" stroke-width="2"/>
<line x1="585.65" y1="479.7" x2="585.65" y2="485.2" stroke="#1c1c1c" stroke-width="2"/>
<line x1="615.10" y1="479.7" x2="615.10" y2="489.7" stroke="#1c1c1c" stroke-width="2"/>
<line x1="644.55" y1="479.7" x2="644.55" y2="485.2" stroke="#1c1c1c" stroke-width="2"/>
<line x1="674.00" y1="479.7" x2="674.00" y2="489.7" stroke="#1c1c1c" stroke-width="2"/>
<line x1="75.0" y1="479.70" x2="85.0" y2="479.70" stroke="#1c1c1c" stroke-width="2"/>
<line x1="79.5" y1="426.61" x2="85.0" y2="426.61" stroke="#1c1c1c" stroke-width="2"/>
<line x1="75.0" y1="373.53" x2="85.0" y2="373.53" stroke="#1c1c1c" stroke-width="2"/>
<line x1="79.5" y1="320.44" x2="85.0" y2="320.44" stroke="#1c1c1c" stroke-width="2"/>
<line x1="75.0" y1="267.35" x2="85.0" y2="267.35" stroke="#1c1c1c" stroke-width="2"/>
<line x1="79.5" y1="214.26" x2="85.0" y2="214.26" stroke="#1c1c1c" stroke-width="2"/>
<line x1="75.0" y1="161.17" x2="85.0" y2="161.17" stroke="#1c1c1c" stroke-width="2"/>
<line x1="79.5" y1="108.09" x2="85.0" y2="108.09" stroke="#1c1c1c" stroke-width="2"/>
<line x1="75.0" y1="55.00" x2="85.0" y2="55.00" stroke="#1c1c1c" stroke-width="2"/>
<line x1="79.5" y1="1.91" x2="85.0" y2="1.91" stroke="#1c1c1c" stroke-width="2"/>
<text transform="translate(85.00,509.60) scale(0.97,1)" text-anchor="middle" font-size="18">0.0</text>
<text transform="translate(143.90,509.60) scale(0.97,1)" text-anchor="middle" font-size="18">0.1</text>
<text transform="translate(202.80,509.60) scale(0.97,1)" text-anchor="middle" font-size="18">0.2</text>
<text transform="translate(261.70,509.60) scale(0.97,1)" text-anchor="middle" font-size="18">0.3</text>
<text transform="translate(320.60,509.60) scale(0.97,1)" text-anchor="middle" font-size="18">0.4</text>
<text transform="translate(379.50,509.60) scale(0.97,1)" text-anchor="middle" font-size="18">0.5</text>
<text transform="translate(438.40,509.60) scale(0.97,1)" text-anchor="middle" font-size="18">0.6</text>
<text transform="translate(497.30,509.60) scale(0.97,1)" text-anchor="middle" font-size="18">0.7</text>
<text transform="translate(556.20,509.60) scale(0.97,1)" text-anchor="middle" font-size="18">0.8</text>
<text transform="translate(615.10,509.60) scale(0.97,1)" text-anchor="middle" font-size="18">0.9</text>
<text transform="translate(674.00,509.60) scale(0.97,1)" text-anchor="middle" font-size="18">1.0</text>
<text transform="translate(70.10,485.20) scale(0.97,1)" text-anchor="end" font-size="18">0.6</text>
<text transform="translate(70.10,379.03) scale(0.97,1)" text-anchor="end" font-size="18">0.7</text>
<text transform="translate(70.10,272.85) scale(0.97,1)" text-anchor="end" font-size="18">0.8</text>
<text transform="translate(70.10,166.67) scale(0.97,1)" text-anchor="end" font-size="18">0.9</text>
<text transform="translate(70.10,60.50) scale(0.97,1)" text-anchor="end" font-size="18">1.0</text>
<!-- axis titles -->
<text transform="translate(379.10,543.30) scale(1.06,1)" text-anchor="middle" font-size="21.5">P</text>
<text transform="translate(9.6,253.7) rotate(-90)" text-anchor="middle" font-size="19">η</text>
<!-- legend -->
<rect x="523.3" y="35.4" width="121.6" height="136.6" fill="#fff" stroke="#2a2a2a" stroke-width="1.2"/>
<line x1="532.3" y1="52.7" x2="582.5" y2="52.7" stroke="#505356" stroke-width="1.45"/>
<text transform="translate(588.60,59.60) scale(0.955,1)" text-anchor="start" font-size="23.2">RE</text>
<line x1="532.3" y1="79.7" x2="573" y2="79.7" stroke="#505356" stroke-width="1.45" stroke-dasharray="7.6 3.3"/>
<text transform="translate(588.60,86.60) scale(0.955,1)" text-anchor="start" font-size="23.2">BE</text>
<line x1="532.3" y1="106.5" x2="582.5" y2="106.5" stroke="#505356" stroke-width="1.45" stroke-dasharray="2.8 2.8"/>
<text transform="translate(588.60,113.40) scale(0.955,1)" text-anchor="start" font-size="23.2">Conv</text>
<line x1="532.3" y1="133.4" x2="582.5" y2="133.4" stroke="#505356" stroke-width="1.45" stroke-dasharray="8.5 1.6 2.2 1.7"/>
<text transform="translate(588.60,140.30) scale(0.955,1)" text-anchor="start" font-size="23.2">SE</text>
<line x1="532.3" y1="160.5" x2="582.5" y2="160.5" stroke="#505356" stroke-width="1.45" stroke-dasharray="6.5 1.4 2 1.5 2 1.4"/>
<text transform="translate(588.60,167.40) scale(0.955,1)" text-anchor="start" font-size="23.2">TR</text>
<!-- alpha boxes -->
<rect x="383.3" y="94.5" width="58" height="28" fill="#fff" stroke="#2a2a2a" stroke-width="1.2"/>
<text class="serif" transform="translate(390.00,116.80) scale(1.015,1)" text-anchor="start" font-size="19.6">α=0.1</text>
<rect x="381.3" y="286.2" width="58.4" height="29" fill="#fff" stroke="#2a2a2a" stroke-width="1.2"/>
<text class="serif" transform="translate(388.60,310.20) scale(1.04,1)" text-anchor="start" font-size="19.6">α=0.2</text>
<line x1="414.3" y1="123.5" x2="413.4" y2="273" stroke="#222" stroke-width="1.1"/>
<path d="M413.3,284.5 L410.0,271.6 L413.3,273.2 L416.6,271.6 Z" fill="#111"/>
<!-- info text -->
<text transform="translate(108.3,428.2) scale(0.96,1)" font-size="22.9">T<tspan dy="9" font-size="14">a</tspan><tspan dy="-9">=30</tspan><tspan dy="-12" font-size="14.5">o</tspan><tspan dy="12">C,T</tspan><tspan dy="9" font-size="14">b</tspan><tspan dy="-9">=40</tspan><tspan dy="-12" font-size="14.5">o</tspan><tspan dy="12">C,</tspan></text>
<text class="serif" transform="translate(284.00,428.20) scale(1.09,1)" text-anchor="start" font-size="18">β=0.1</text>
<text transform="translate(108.3,467) scale(0.96,1)" font-size="22.9">S=456(21<tspan dy="-12" font-size="14">st</tspan><tspan dy="12">June 2023),U</tspan><tspan dy="8" font-size="14">la</tspan><tspan dy="-8">=4.5</tspan></text>
</svg>
</body></html>
